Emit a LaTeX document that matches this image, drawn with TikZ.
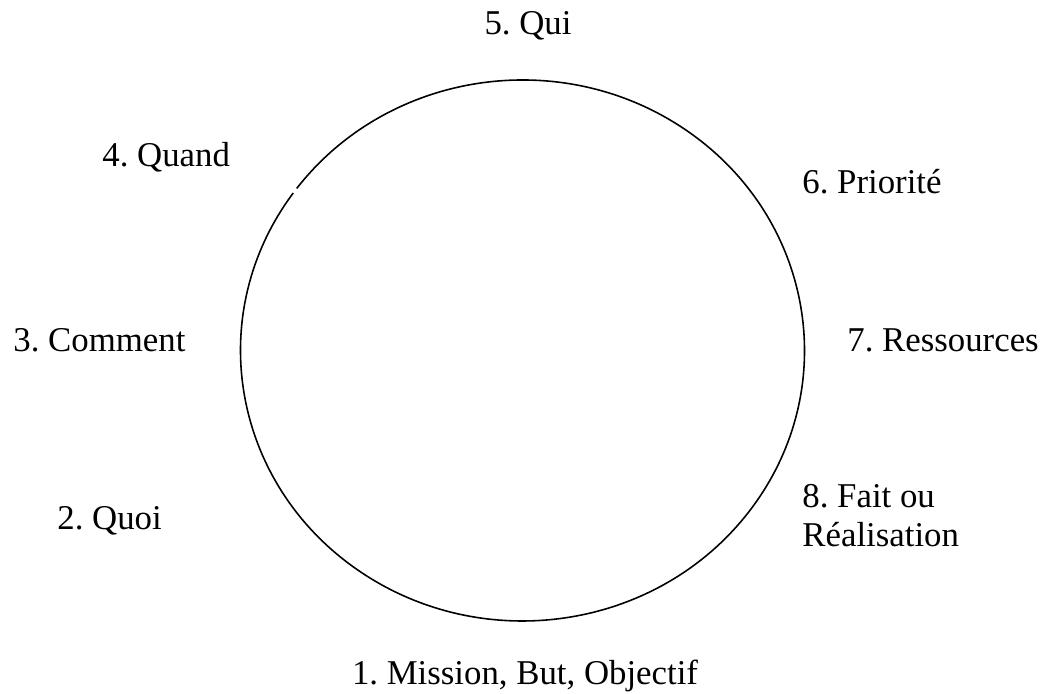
\documentclass[tikz,border=0pt]{standalone}
\usepackage{fontspec}
\setmainfont{Liberation Serif}
\usetikzlibrary{calc}
\frenchspacing

\tikzset{
    etape/.style={inner sep=0pt, font=\fontsize{9.9pt}{11pt}\selectfont},
    cercle/.style={line width=0.45pt}
}

\begin{document}
\begin{tikzpicture}[black]

    \useasboundingbox (0,0) rectangle (10.42,6.94);

    \coordinate (centre) at (5.225,3.435);

    % the ring, with its small gap near the top left
    \draw[cercle] ($(centre)+(144.4:2.82 and 2.705)$) arc[start angle=144.4, end angle=503.2, x radius=2.82, y radius=2.705];

    \node[etape, anchor=base] (mission) at (5.25,0.09) {1. Mission, But, Objectif};
    \node[etape, anchor=base west] (quoi) at (0.567,1.64) {2. Quoi};
    \node[etape, anchor=base west] (comment) at (0.127,3.423) {3. Comment};
    \node[etape, anchor=base west] (quand) at (1.017,5.273) {4. Quand};
    \node[etape, anchor=base] (qui) at (5.28,6.59) {5. Qui};
    \node[etape, anchor=base west] (priorite) at (8.017,5.0) {6. Priorité};
    \node[etape, anchor=base west] (ressources) at (8.467,3.423) {7. Ressources};
    \node[etape, anchor=north west, align=left] (fait) at (8.017,2.10) {8. Fait ou\\Réalisation};

\end{tikzpicture}
\end{document}
